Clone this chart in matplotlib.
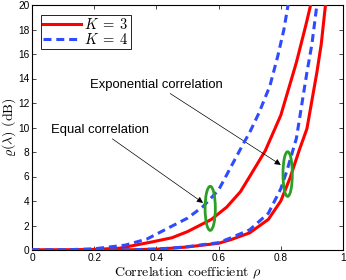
import matplotlib
matplotlib.use('Agg')
import matplotlib.pyplot as plt
from matplotlib.patches import Ellipse

plt.rcParams['mathtext.fontset'] = 'cm'
plt.rcParams['font.family'] = 'Liberation Sans'

# equal correlation
rho_eq4 = [0, 0.1, 0.2, 0.3, 0.37, 0.45, 0.5, 0.55, 0.6, 0.64, 0.68, 0.7, 0.73, 0.765, 0.79, 0.81, 0.83]
val_eq4 = [0, 0.01, 0.1, 0.4, 0.9, 1.95, 2.6, 3.55, 4.9, 6.8, 8.7, 9.6, 11.2, 13.4, 15.8, 18.0, 21.0]
rho_eq3 = [0, 0.1, 0.2, 0.28, 0.39, 0.45, 0.5, 0.577, 0.626, 0.67, 0.7, 0.75, 0.8, 0.85, 0.88, 0.91]
val_eq3 = [0, 0.0, 0.05, 0.14, 0.68, 1.0, 1.5, 2.5, 3.5, 4.75, 6.0, 8.1, 11.0, 15.3, 18.3, 21.5]
# exponential correlation
rho_ex4 = [0, 0.2, 0.3, 0.4, 0.45, 0.5, 0.6, 0.64, 0.7, 0.76, 0.8, 0.82, 0.85, 0.884, 0.9, 0.92]
val_ex4 = [0, 0, 0.01, 0.08, 0.16, 0.27, 0.6, 1.0, 1.65, 3.0, 5.0, 6.5, 9.1, 14.5, 16.8, 20.8]
rho_ex3 = [0, 0.2, 0.3, 0.4, 0.45, 0.5, 0.6, 0.64, 0.7, 0.76, 0.8, 0.83, 0.86, 0.884, 0.916, 0.93, 0.95]
val_ex3 = [0, 0, 0.01, 0.07, 0.15, 0.25, 0.55, 0.85, 1.4, 2.5, 4.0, 5.9, 8.2, 9.9, 14.5, 16.8, 21.5]

red = '#ff0000'
blue = '#2e4bff'
green = '#2ca024'

fig = plt.figure(figsize=(3.46, 2.80), dpi=100)
ax = fig.add_axes([32/346, 30/280, 311/346, 245/280])

ax.plot(rho_eq3, val_eq3, color=red, lw=2.2, zorder=3, label=r'$K\;=\;3$')
ax.plot(rho_ex3, val_ex3, color=red, lw=2.2, zorder=3)
ax.plot(rho_eq4, val_eq4, color=blue, lw=2.2, ls=(0, (2.6, 1.6)), zorder=4, label=r'$K\;=\;4$')
ax.plot(rho_ex4, val_ex4, color=blue, lw=2.2, ls=(0, (2.6, 1.6)), zorder=4)

ax.add_patch(Ellipse((0.573, 3.4), 0.033, 3.6, fill=False, ec=green, lw=2, zorder=5))
ax.add_patch(Ellipse((0.822, 6.2), 0.030, 3.65, fill=False, ec=green, lw=2, zorder=5))

ax.annotate('Equal correlation', xy=(0.55, 3.85), xytext=(0.376, 9.3),
            fontsize=9.4, ha='right', va='bottom',
            arrowprops=dict(arrowstyle='-|>', color='black', lw=0.5,
                            mutation_scale=9, shrinkA=0, shrinkB=0))
ax.annotate('Exponential correlation', xy=(0.80, 6.95), xytext=(0.614, 13.0),
            fontsize=9.4, ha='right', va='bottom',
            arrowprops=dict(arrowstyle='-|>', color='black', lw=0.5,
                            mutation_scale=9, shrinkA=0, shrinkB=0))

ax.set_xlim(0, 1)
ax.set_ylim(0, 20)
ax.set_xticks([0, 0.2, 0.4, 0.6, 0.8, 1])
ax.set_xticklabels(['0', '0.2', '0.4', '0.6', '0.8', '1'])
ax.set_yticks(range(0, 21, 2))
ax.tick_params(direction='in', length=3, width=0.5, labelsize=7.3, top=True, right=True, pad=2)
for s in ax.spines.values():
    s.set_linewidth(0.8)

ax.set_xlabel(r'Correlation coefficient $\rho$', fontsize=10, family='cmr10', labelpad=1)
ax.set_ylabel(r'$\varrho(\boldsymbol{\lambda})$ (dB)', fontsize=10, family='cmr10')
ax.yaxis.set_label_coords(-0.045, 0.5)

leg = ax.legend(loc='upper left', bbox_to_anchor=(0.028, 0.96), fontsize=10.5,
                frameon=True, fancybox=False, edgecolor='black', framealpha=1,
                handlelength=2.6, borderpad=0.15, labelspacing=0.0, handletextpad=0.2,
                borderaxespad=0)
leg.get_frame().set_linewidth(0.6)

fig.savefig('out.png', dpi=100)
